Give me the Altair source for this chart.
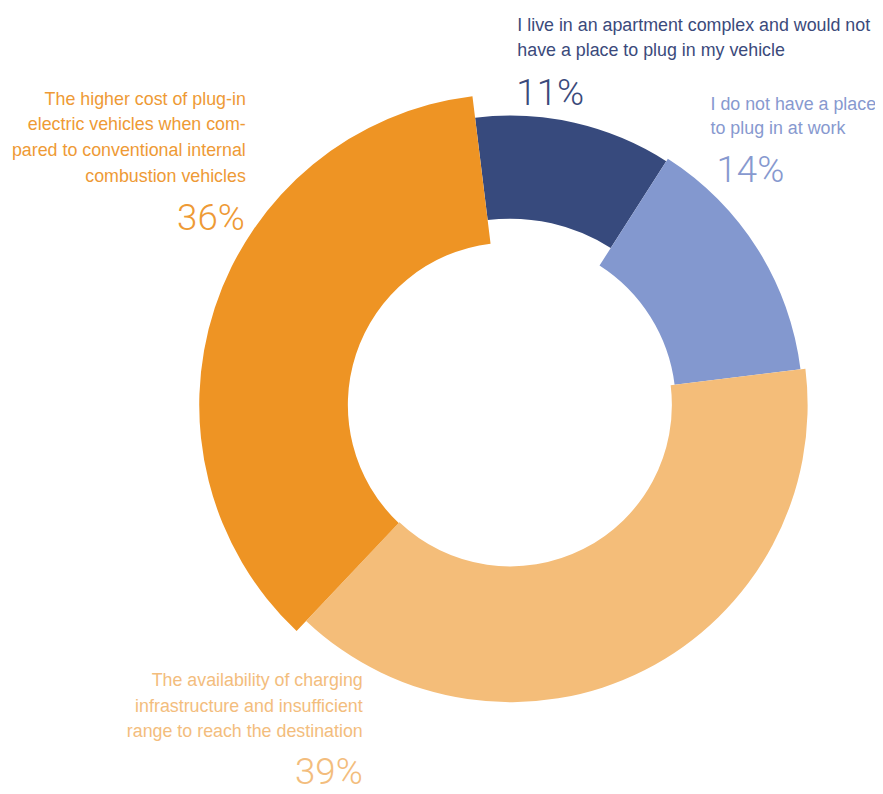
import math
import altair as alt
import pandas as pd

# ---- data ----
categories = ["apartment", "work", "availability", "cost"]
shares = [11, 14, 39, 36]
descriptions = [
    "I live in an apartment complex and would not\nhave a place to plug in my vehicle",
    "I do not have a place\nto plug in at work",
    "The availability of charging\ninfrastructure and insufficient\nrange to reach the destination",
    "The higher cost of plug-in\nelectric vehicles when com-\npared to conventional internal\ncombustion vehicles",
]

# ---- styling / layout (kept separate from the data) ----
slice_colors = ["#374a7d", "#8398cf", "#f4bd79", "#ee9424"]
text_colors = ["#3b4a7b", "#8799cf", "#f3bd7d", "#ee9a35"]
BODY_FONT = "Liberation Sans, Arial, sans-serif"
PCT_FONT = "Roboto, Liberation Sans, sans-serif"
CX, CY = 507, 397
layout = {
    "apartment":    dict(inner=188, outer=292, dx=514, dy=20,  dalign="left",  lh=24.5, px=513, py=94,  palign="left"),
    "work":         dict(inner=167, outer=295, dx=709, dy=99,  dalign="left",  lh=25,   px=715, py=172, palign="left"),
    "availability": dict(inner=163, outer=300, dx=358, dy=681, dalign="right", lh=25.5, px=358, py=780, palign="right"),
    "cost":         dict(inner=164, outer=314, dx=240, dy=94,  dalign="right", lh=26,   px=239, py=220, palign="right"),
}
rot = -7 * math.pi / 180
theta_scale = alt.Scale(domain=[0, 100], range=[2 * math.pi + rot, 4 * math.pi + rot])

df = pd.DataFrame({
    "category": categories,
    "share": shares,
    "order": list(range(len(categories))),
    "desc": descriptions,
})

base = (
    alt.Chart(df)
    .transform_window(cum="sum(share)", sort=[alt.SortField("order")], frame=[None, 0])
    .transform_calculate(start="datum.cum - datum.share", pct="datum.share + '%'")
)

layers = []
for i, cat in enumerate(categories):
    L = layout[cat]
    sub = base.transform_filter(alt.datum.category == cat)
    layers.append(
        sub.mark_arc(innerRadius=L["inner"], outerRadius=L["outer"], color=slice_colors[i])
        .encode(
            theta=alt.Theta("start:Q", scale=theta_scale),
            theta2="cum:Q",
            x=alt.value(CX),
            y=alt.value(CY),
        )
    )
    layers.append(
        sub.mark_text(
            align=L["dalign"], baseline="alphabetic", font=BODY_FONT, fontSize=18,
            lineHeight=L["lh"], lineBreak="\n", color=text_colors[i],
        ).encode(text="desc:N", x=alt.value(L["dx"]), y=alt.value(L["dy"]))
    )
    layers.append(
        sub.mark_text(
            align=L["palign"], baseline="alphabetic", font=PCT_FONT, fontSize=37,
            fontWeight=300, color=text_colors[i],
        ).encode(text="pct:N", x=alt.value(L["px"]), y=alt.value(L["py"]))
    )

chart = (
    alt.layer(*layers)
    .properties(width=875, height=786, padding=0, autosize="none", background="white")
    .configure_view(stroke=None)
)

chart.save("out.html", embed_options={"renderer": "svg", "actions": False})
